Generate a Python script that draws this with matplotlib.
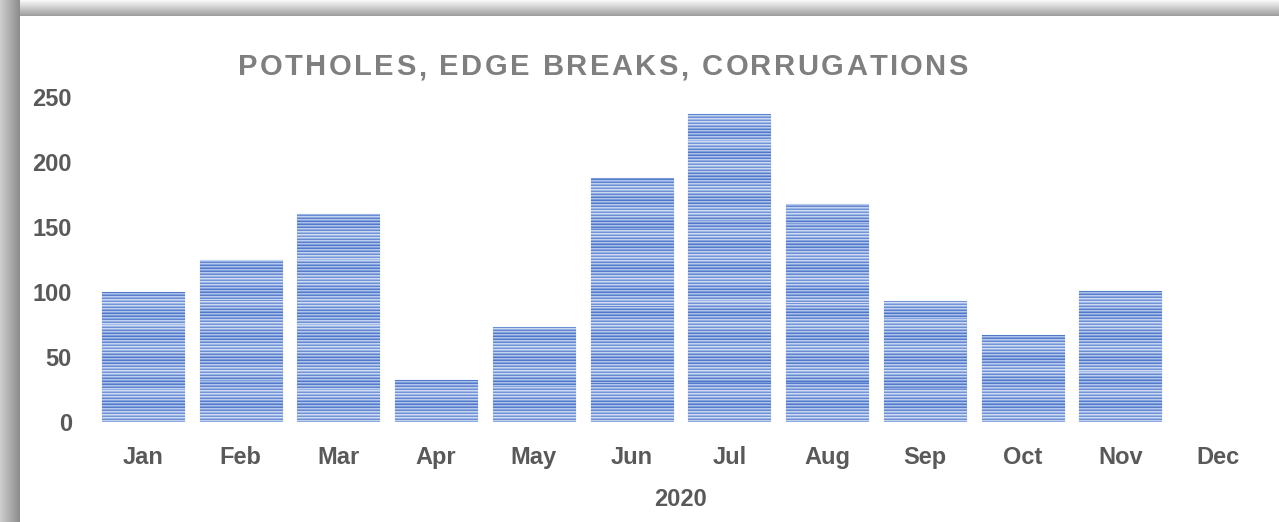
import numpy as np
import matplotlib
matplotlib.use('Agg')
import matplotlib.pyplot as plt
from matplotlib.colors import LinearSegmentedColormap

months = ['Jan', 'Feb', 'Mar', 'Apr', 'May', 'Jun', 'Jul', 'Aug', 'Sep', 'Oct', 'Nov', 'Dec']
counts = [100, 125, 160, 32, 73, 188, 237, 168, 93, 67, 101, 0]
title = 'POTHOLES, EDGE BREAKS, CORRUGATIONS'
year = '2020'

plt.rcParams['font.family'] = ['Liberation Sans', 'DejaVu Sans']
W, H = 1279, 522
fig = plt.figure(figsize=(W / 100, H / 100), dpi=100)

# screenshot shadow frame behind everything
bg = fig.add_axes([0, 0, 1, 1], zorder=-10)
img = np.ones((H, W))
left = np.linspace(0.80, 0.55, 20)
img[:, :20] = left[None, :]
top = np.linspace(0.97, 0.62, 16)
img[:16, 20:] = np.minimum(img[:16, 20:], top[:, None])
bg.imshow(img, cmap='gray', vmin=0, vmax=1, aspect='auto', interpolation='bilinear')
bg.axis('off')

ax = fig.add_axes([94 / W, (H - 422) / H, (1267 - 94) / W, (422 - 97) / H])
x = np.arange(len(months))
bars = ax.bar(x, counts, width=0.84, color='#8eaadf', edgecolor='#5a80cc', linewidth=0.8)

# horizontal stripe texture clipped to each bar
rows = np.arange(330)
stripe = 0.55 + 0.35 * np.sin(2 * np.pi * rows / 3.0) + 0.12 * np.sin(2 * np.pi * rows / 23.0)
stripe = np.clip(stripe, 0, 1)[:, None]
cm = LinearSegmentedColormap.from_list('st', ['#4068c0', '#86a5e0', '#d6e0f4'])
for b in bars:
    if b.get_height() <= 0:
        b.set_linewidth(0)
        continue
    im = ax.imshow(stripe, extent=(-0.5, len(months) - 0.5, 0, 250), origin='lower',
                   aspect='auto', cmap=cm, vmin=0, vmax=1, interpolation='nearest', zorder=2)
    im.set_clip_path(b)

ax.set_xlim(-0.5, len(months) - 0.5)
ax.set_ylim(0, 250)
ax.set_yticks([0, 50, 100, 150, 200, 250])
ax.set_xticks(x)
ax.set_xticklabels(months)
for s in ax.spines.values():
    s.set_visible(False)
ax.tick_params(length=0, labelsize=17, labelcolor='#595959')
ax.tick_params(axis='y', pad=16)
ax.tick_params(axis='x', pad=17)
for t in ax.get_xticklabels() + ax.get_yticklabels():
    t.set_fontweight('bold')
ax.set_xlabel(year, fontsize=17, fontweight='bold', color='#595959', labelpad=14)

# letter-spaced title
fig.canvas.draw()
r = fig.canvas.get_renderer()
ws = []
for ch in title:
    t = fig.text(0, 0, ch if ch != ' ' else 'n', fontsize=21, fontweight='bold')
    ws.append(t.get_window_extent(r).width * (0.5 if ch == ' ' else 1.0))
    t.remove()
total = 730
gap = (total - sum(ws)) / (len(title) - 1)
cx = 238
for ch, w in zip(title, ws):
    if ch != ' ':
        fig.text(cx / W, (H - 67) / H, ch, fontsize=21, fontweight='bold', color='#7f7f7f',
                 ha='left', va='center')
    cx += w + gap

fig.savefig('out.png', dpi=100)
